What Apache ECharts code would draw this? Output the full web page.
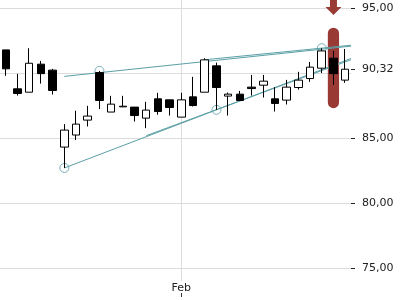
<!DOCTYPE html>
<html><head><meta charset="utf-8">
<script src="https://cdn.jsdelivr.net/npm/echarts@6/dist/echarts.min.js"></script>
<style>html,body{margin:0;padding:0;background:#fff}#c{width:400px;height:300px}</style>
</head><body><div id="c"></div>
<script>
const dates = ['2024-01-10','2024-01-11','2024-01-12','2024-01-16','2024-01-17','2024-01-18','2024-01-19','2024-01-22','2024-01-23','2024-01-24','2024-01-25','2024-01-26','2024-01-29','2024-01-30','2024-01-31',
  '2024-02-01','2024-02-02','2024-02-05','2024-02-06','2024-02-07','2024-02-08','2024-02-09','2024-02-12','2024-02-13','2024-02-14','2024-02-15','2024-02-16','2024-02-20','2024-02-21','2024-02-22'];
const opens  = [91.81,88.81,88.55,90.71,90.25,84.32,85.25,86.40,90.06,87.02,87.42,87.40,86.55,88.04,87.96,86.63,88.19,88.55,90.58,88.25,88.40,88.94,89.09,88.04,87.94,88.91,89.60,90.40,91.17,89.48];
const closes = [90.35,88.45,90.78,89.98,88.68,85.63,86.09,86.71,87.91,87.63,87.47,86.75,87.17,87.06,87.37,87.96,87.52,91.04,88.91,88.40,87.91,88.83,89.40,87.68,88.94,89.48,90.48,91.73,89.98,90.32];
const lows   = [89.81,88.29,88.55,89.21,88.37,82.71,84.86,85.91,87.25,87.02,87.40,86.29,85.78,86.81,86.75,86.63,87.45,88.55,87.19,86.75,87.88,88.29,88.14,87.06,87.60,88.75,89.35,90.02,89.12,89.27];
const highs  = [91.81,89.96,91.94,90.96,90.35,86.09,87.12,87.50,90.19,88.27,88.27,87.40,87.81,88.50,87.96,88.50,89.73,91.17,90.83,88.52,88.65,89.88,89.88,88.94,89.50,90.12,90.88,91.94,91.73,91.88];
const monthLabels = {'2024-02-01': 'Feb'};
const yGridValues = [75, 95];
const yTickValues = [75, 80, 85, 90.32, 95];
const trendUpperA = [[5, 89.77], [29.5, 92.10]];
const trendUpperB = [[17, 91.05], [29.5, 92.17]];
const trendLowerA = [[5, 82.71], [29.5, 91.15]];
const trendLowerB = [[12, 85.20], [29.5, 91.05]];
const pivots = [[5, 82.71], [8, 90.19], [18, 87.19], [27, 91.94]];
const highlight = [[28, 93.52, 87.32]];
const arrowTip = [[28, 94.5]];

const TEAL = '#5b9fa6';
const RED = '#993a34';
const FONT = 'DejaVu Sans';
const isMonthTick = (i) => monthLabels[dates[i]] !== undefined;

const chart = echarts.init(document.getElementById('c'), null, {renderer: 'canvas'});
const trendStyle = (data) => ({
  type: 'line', xAxisIndex: 2, yAxisIndex: 0, data, symbol: 'none', silent: true, z: 2,
  lineStyle: {color: TEAL, width: 1}
});
chart.setOption({
  animation: false,
  backgroundColor: '#fff',
  grid: [
    {left: 0, right: 49, top: 0, bottom: 19},
    {left: 0, right: 49, top: 8.5, bottom: 32}
  ],
  xAxis: [
    {type: 'category', gridIndex: 0, data: dates, boundaryGap: true,
      axisLine: {show: false}, axisTick: {show: false}, splitLine: {show: false},
      axisLabel: {interval: (i) => isMonthTick(i), formatter: (v) => monthLabels[v] || '', margin: 2,
        fontFamily: FONT, fontSize: 11, color: '#222'}},
    {type: 'category', gridIndex: 0, data: dates, boundaryGap: true, position: 'bottom', offset: 12,
      axisLine: {show: false}, axisLabel: {show: false}, splitLine: {show: false},
      axisTick: {show: true, alignWithLabel: true, interval: (i) => isMonthTick(i), length: 4, lineStyle: {color: '#333'}}},
    {type: 'value', gridIndex: 0, min: -0.5, max: 29.5, show: false},
    {type: 'value', gridIndex: 1, min: 0, max: 1, show: false}
  ],
  yAxis: [
    {type: 'value', gridIndex: 0, min: 74.0, max: 95.655, show: false},
    {type: 'value', gridIndex: 1, min: yGridValues[0], max: yGridValues[1], interval: 5, position: 'right',
      axisLine: {show: false}, axisTick: {show: false}, axisLabel: {show: false},
      splitLine: {show: true, lineStyle: {color: '#dcdcdc', width: 1}}},
    {type: 'value', gridIndex: 1, min: yGridValues[0], max: yGridValues[1], position: 'right',
      axisLine: {show: false}, splitLine: {show: false},
      axisTick: {show: true, customValues: yTickValues, length: 4, lineStyle: {color: '#222'}},
      axisLabel: {customValues: yTickValues, formatter: (v) => v.toFixed(2).replace('.', ','), margin: 11,
        fontFamily: FONT, fontSize: 11, color: '#222'}}
  ],
  series: [
    {type: 'custom', xAxisIndex: 0, yAxisIndex: 0, z: 1, silent: true, data: highlight,
      encode: {x: 0, y: [1, 2]},
      renderItem: (params, api) => {
        const x = api.value(0);
        const t = api.coord([x, api.value(1)]);
        const b = api.coord([x, api.value(2)]);
        const w = api.size([1, 0])[0] * 0.96;
        return {type: 'rect', shape: {x: t[0] - w / 2, y: t[1], width: w, height: b[1] - t[1], r: w / 2},
          style: {fill: RED}};
      },
      markLine: {silent: true, z: 0, symbol: 'none', label: {show: false}, animation: false,
        lineStyle: {color: '#dcdcdc', width: 1, type: 'solid'},
        data: Object.keys(monthLabels).map((d) => ({xAxis: d}))}
    },
    {type: 'custom', xAxisIndex: 0, yAxisIndex: 0, z: 1, silent: true, clip: false, data: arrowTip,
      encode: {x: 0, y: 1},
      renderItem: (params, api) => {
        const p = api.coord([api.value(0), api.value(1)]);
        const cx = p[0], ty = p[1];
        return {type: 'polygon', shape: {points: [[cx, ty], [cx - 8, ty - 8], [cx - 3.5, ty - 8], [cx - 3.5, ty - 20],
          [cx + 3.5, ty - 20], [cx + 3.5, ty - 8], [cx + 8, ty - 8]]}, style: {fill: RED}};
      }
    },
    trendStyle(trendUpperA),
    trendStyle(trendUpperB),
    trendStyle(trendLowerA),
    trendStyle(trendLowerB),
    {type: 'scatter', xAxisIndex: 2, yAxisIndex: 0, data: pivots, symbol: 'circle', symbolSize: 9, silent: true, z: 2,
      itemStyle: {color: 'rgba(0,0,0,0)', borderColor: TEAL, borderWidth: 1}},
    {type: 'candlestick', xAxisIndex: 0, yAxisIndex: 0, z: 3, barWidth: 8, silent: true,
      data: opens.map((o, i) => [o, closes[i], lows[i], highs[i]]),
      itemStyle: {color: '#fff', color0: '#000', borderColor: '#000', borderColor0: '#000', borderWidth: 1}}
  ]
});
</script>
</body></html>
